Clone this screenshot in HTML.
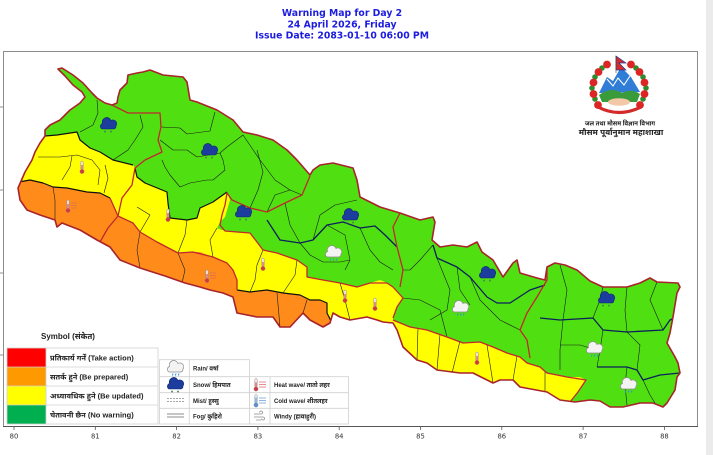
<!DOCTYPE html>
<html>
<head>
<meta charset="utf-8">
<style>
html,body{margin:0;padding:0;background:#fff;}
body{width:713px;height:455px;overflow:hidden;}
svg{display:block;}
.t{font-family:"DejaVu Sans","Liberation Sans",sans-serif;font-weight:bold;fill:#1c1ce0;font-size:9.3px;}
.tk{font-family:"DejaVu Sans","Liberation Sans",sans-serif;font-size:6.8px;fill:#333;}
.lg{font-family:"Liberation Sans","Noto Sans Devanagari","Lohit Devanagari","FreeSans","Noto Sans CJK SC",sans-serif;font-weight:bold;fill:#222;}
</style>
</head>
<body>
<svg width="713" height="455" viewBox="0 0 713 455" xmlns="http://www.w3.org/2000/svg">
<defs>
  <clipPath id="np">
    <polygon points="58,69 62,68 73,75 83,83 92,93 97,98 105,103 112,105 117,103 118,97 120,90 127,83 128,75 137,73 143,72 150,70 163,75 183,77 187,82 190,100 197,102 217,110 233,120 243,132 257,135 273,140 287,150 297,160 310,175 313,170 320,165 333,163 353,168 357,180 360,197 380,207 400,213 420,220 433,217 435,222 432,240 440,247 453,245 467,247 477,242 482,252 493,260 503,277 513,263 517,260 520,273 537,278 545,280 547,267 555,263 565,265 577,270 590,281 603,287 627,287 640,283 650,278 657,282 678,283 680,287 677,293 673,317 670,333 667,343 675,357 678,363 680,373 677,377 675,390 667,403 663,407 653,403 640,403 623,407 610,407 600,401 590,400 575,402 560,400 547,392 520,387 513,380 500,380 493,383 483,378 473,373 460,373 437,370 427,363 417,360 403,347 397,330 393,323 383,322 377,320 367,317 350,320 340,317 333,313 330,323 323,327 310,320 303,313 290,327 280,327 273,317 257,317 237,313 233,297 223,293 210,290 200,287 185,283 165,276 140,268 120,260 110,247 97,240 80,230 62,223 57,227 55,220 40,215 27,210 20,200 18,188 25,172 32,160 35,152 40,143 45,136 45,130 50,125 60,120 70,110 80,103 85,97 82,92 73,85 65,76"/>
  </clipPath>
  <g id="snow">
    <path d="M3,11 A3,3 0 0 1 3.5,5.5 A4.5,4.5 0 0 1 12,2.5 A3.8,3.8 0 0 1 17,8 A3,3 0 0 1 15,11 Z" fill="#1d3d9e" stroke="#0c2470" stroke-width="0.6"/>
    <path d="M6,12.5 v2.2 M5,13.6 h2 M12,12.5 v2.2 M11,13.6 h2" stroke="#4d7a60" stroke-width="0.8"/>
  </g>
  <g id="rain">
    <path d="M3,11 A3,3 0 0 1 3.5,5.5 A4.5,4.5 0 0 1 12,2.5 A3.8,3.8 0 0 1 17,8 A3,3 0 0 1 15,11 Z" fill="#f3f3f3" stroke="#8a8a8a" stroke-width="0.7"/>
    <path d="M7,12.5 l-0.6,2 M10,12.5 l-0.6,2 M13,12.5 l-0.6,2" stroke="#2f8fe0" stroke-width="1"/>
  </g>
  <g id="therm">
    <rect x="1.3" y="0" width="2.4" height="9" rx="1.2" fill="#f4e4e4" stroke="#9a8a8a" stroke-width="0.5"/>
    <rect x="2" y="4" width="1" height="6" fill="#d33a40"/>
    <circle cx="2.5" cy="10.5" r="2.1" fill="#d33a40" stroke="#9a7a7a" stroke-width="0.4"/>
  </g>
  <g id="thermc">
    <rect x="1.3" y="0" width="2.4" height="9" rx="1.2" fill="#e4ecf6" stroke="#8a92a0" stroke-width="0.5"/>
    <rect x="2" y="3" width="1" height="7" fill="#5a8fd0"/>
    <circle cx="2.5" cy="10.5" r="2.1" fill="#5a8fd0" stroke="#7a8aa0" stroke-width="0.4"/>
  </g>
</defs>

<!-- right gray strip -->
<rect x="706" y="0" width="7" height="455" fill="#ebebeb"/>

<!-- title -->
<text class="t" x="342" y="16.2" text-anchor="middle">Warning Map for Day 2</text>
<text class="t" x="342" y="27.4" text-anchor="middle">24 April 2026, Friday</text>
<text class="t" x="342" y="38.6" text-anchor="middle">Issue Date: 2083-01-10 06:00 PM</text>

<!-- axes frame -->
<rect x="3.5" y="51.5" width="694" height="375" fill="none" stroke="#8c8c8c" stroke-width="1"/>
<line x1="3" y1="426.5" x2="698" y2="426.5" stroke="#555" stroke-width="1"/>
<g stroke="#777" stroke-width="0.8">
  <line x1="0" y1="107" x2="3" y2="107"/>
  <line x1="0" y1="190" x2="3" y2="190"/>
  <line x1="0" y1="273" x2="3" y2="273"/>
  <line x1="0" y1="355" x2="3" y2="355"/>
</g>
<g stroke="#555" stroke-width="0.8">
  <line x1="14" y1="427" x2="14" y2="430"/>
  <line x1="95.3" y1="427" x2="95.3" y2="430"/>
  <line x1="176.6" y1="427" x2="176.6" y2="430"/>
  <line x1="257.9" y1="427" x2="257.9" y2="430"/>
  <line x1="339.2" y1="427" x2="339.2" y2="430"/>
  <line x1="420.5" y1="427" x2="420.5" y2="430"/>
  <line x1="501.8" y1="427" x2="501.8" y2="430"/>
  <line x1="583.1" y1="427" x2="583.1" y2="430"/>
  <line x1="664.4" y1="427" x2="664.4" y2="430"/>
</g>
<g class="tk" text-anchor="middle">
  <text x="14" y="438.5">80</text>
  <text x="95.3" y="438.5">81</text>
  <text x="176.6" y="438.5">82</text>
  <text x="257.9" y="438.5">83</text>
  <text x="339.2" y="438.5">84</text>
  <text x="420.5" y="438.5">85</text>
  <text x="501.8" y="438.5">86</text>
  <text x="583.1" y="438.5">87</text>
  <text x="664.4" y="438.5">88</text>
</g>

<!-- MAP -->
<g clip-path="url(#np)">
  <rect x="0" y="50" width="700" height="380" fill="#50e012"/>
  <polygon fill="#ffff00" points="10,188 18,188 25,172 32,160 35,152 40,143 45,136 57,135 77,132 80,140 90,148 100,152 113,160 133,165 135,168 137,177 145,183 167,192 168,203 170,218 187,220 197,218 200,208 213,202 227,192 230,200 225,217 220,222 217,228 222,230 237,232 250,233 257,242 263,250 277,253 297,260 307,267 307,277 323,280 340,283 357,287 370,283 380,280 387,283 393,287 403,298 397,307 393,317 393,320 410,327 427,330 447,337 463,343 480,342 493,347 507,353 520,357 527,363 540,367 547,373 567,377 580,377 586,380 578,392 570,402 570,420 10,420"/>
  <polygon fill="#ff8c1a" points="10,182 19,182 30,180 43,183 53,187 67,188 87,192 100,193 110,198 118,216 133,223 140,232 157,242 178,253 193,252 200,252 213,257 227,263 233,270 237,280 237,290 250,292 267,290 283,293 300,295 310,300 320,300 327,303 327,313 331,320 334,330 334,340 10,340"/>

  <!-- thin district lines -->
  <g fill="none" stroke="#1a1a1a" stroke-width="0.6" stroke-linejoin="round">
    <polyline points="97,100 98,113 93,125 80,132"/>
    <polyline points="140,115 143,127 135,140 128,150 113,160"/>
    <polyline points="161,127 180,128 187,134 210,131 215,112"/>
    <polyline points="160,140 173,150 187,150 197,157 220,153 227,147 243,135"/>
    <polyline points="162,160 165,167 170,175 180,187 190,183 207,180 213,180 225,170 223,160 220,153"/>
    <polyline points="38,157 60,157 77,155 92,160 100,170 98,185"/>
    <polyline points="72,156 70,167 62,180"/>
    <polyline points="105,165 108,178 104,193"/>
    <polyline points="53,187 55,200 55,220"/>
    <polyline points="140,232 150,215 137,207"/>
    <polyline points="178,253 185,235 187,220"/>
    <polyline points="213,257 210,240 217,228"/>
    <polyline points="263,250 257,265 255,280 250,292"/>
    <polyline points="297,260 295,275 283,293"/>
    <polyline points="140,232 137,250 140,268"/>
    <polyline points="178,253 185,270 182,283"/>
    <polyline points="277,293 280,327"/>
    <polyline points="307,300 303,313"/>
    <polyline points="340,283 345,300 350,320"/>
    <polyline points="418,328 417,360"/>
    <polyline points="440,334 437,370"/>
    <polyline points="460,341 452,373"/>
    <polyline points="487,345 493,383"/>
    <polyline points="517,356 513,380"/>
    <polyline points="545,372 545,391"/>
    <polyline points="267,212 275,195 290,190 302,195"/>
    <polyline points="285,203 290,225 300,243"/>
    <polyline points="313,240 320,215 335,205 357,200"/>
    <polyline points="327,225 345,235 350,260 345,270"/>
    <polyline points="360,228 370,250 380,262 393,270"/>
    <polyline points="300,243 310,255 323,262 340,262 350,260"/>
    <polyline points="250,208 258,190 263,172 257,150"/>
    <polyline points="243,135 260,160 275,180 290,190"/>
    <polyline points="433,245 420,260 410,270 403,270"/>
    <polyline points="437,258 450,290 447,310 430,320"/>
    <polyline points="470,277 480,300 500,320 520,330"/>
    <polyline points="403,298 420,300 440,310 447,337"/>
    <polyline points="457,267 460,290 470,305"/>
    <polyline points="560,265 567,290 563,320"/>
    <polyline points="603,287 600,300 593,318"/>
    <polyline points="627,287 625,310 627,332"/>
    <polyline points="657,282 650,300 663,330"/>
    <polyline points="563,320 560,350 560,370"/>
    <polyline points="603,330 600,350 597,367"/>
    <polyline points="627,332 640,345 637,370"/>
    <polyline points="627,367 625,385 627,405"/>
    <polyline points="560,345 580,345 597,350"/>
    <polyline points="643,380 650,395 655,403"/>
  </g>

  <!-- thick black boundaries -->
  <g fill="none" stroke="#111" stroke-width="1.2" stroke-linejoin="round">
    <polyline points="40,137 45,136 57,135 77,132 80,140 90,148 100,152 113,160 133,165"/>
    <polyline points="135,168 137,177 145,183 167,192 168,203 170,218 187,220 197,218 200,208 213,202 227,192"/>
    <polyline points="15,182 19,182 30,180 43,183 53,187 67,188 87,192 100,193 110,198"/>
    <polyline points="237,290 250,292 267,290 283,293 300,295 310,300 320,300 327,303 327,313 331,321"/>
  </g>

  <!-- navy lines -->
  <g fill="none" stroke="#0b1f5c" stroke-width="1.3" stroke-linejoin="round">
    <polyline points="267,220 280,240 300,243 313,240 327,225 343,222 360,228 375,226 385,235 397,247"/>
    <polyline points="433,245 437,258 457,267 470,277 487,297 497,303 510,303 530,290 545,285"/>
    <polyline points="540,318 560,320 593,318 603,330 627,332 663,330 670,320 676,317"/>
    <polyline points="597,367 627,367 637,370 643,380 660,375 680,373"/>
  </g>

  <!-- red province lines -->
  <g fill="none" stroke="#c1272d" stroke-width="1.3" stroke-linejoin="round">
    <polyline points="112,105 128,113 160,113 161,127 158,140 162,152 145,160 135,168 132,185 122,198 118,216 108,228 100,242"/>
    <polyline points="310,176 302,195 285,203 267,212 250,208 232,200 227,193 225,205 222,215 220,225 225,231 250,233 257,242 263,250 277,253 297,260 307,267 307,277 323,280 340,283 357,287 370,283 387,283 393,287 403,298 397,307 393,318"/>
    <polyline points="393,320 410,327 427,330 447,337 463,343 480,342 493,347 507,353 520,357 527,363 540,367 547,373 567,377 586,380 578,392 570,402"/>
    <polyline points="400,213 393,227 397,247 403,270 400,287"/>
    <polyline points="547,265 547,280 537,297 527,313 520,330 527,340 530,358"/>
    <polyline points="110,198 118,216 133,223 140,232 157,242 178,253 193,252 213,257 227,263 233,270 237,280 237,290"/>
  </g>
</g>

<!-- country border -->
<polygon fill="none" stroke="#a8232b" stroke-width="1.6" stroke-linejoin="round" points="58,69 62,68 73,75 83,83 92,93 97,98 105,103 112,105 117,103 118,97 120,90 127,83 128,75 137,73 143,72 150,70 163,75 183,77 187,82 190,100 197,102 217,110 233,120 243,132 257,135 273,140 287,150 297,160 310,175 313,170 320,165 333,163 353,168 357,180 360,197 380,207 400,213 420,220 433,217 435,222 432,240 440,247 453,245 467,247 477,242 482,252 493,260 503,277 513,263 517,260 520,273 537,278 545,280 547,267 555,263 565,265 577,270 590,281 603,287 627,287 640,283 650,278 657,282 678,283 680,287 677,293 673,317 670,333 667,343 675,357 678,363 680,373 677,377 675,390 667,403 663,407 653,403 640,403 623,407 610,407 600,401 590,400 575,402 560,400 547,392 520,387 513,380 500,380 493,383 483,378 473,373 460,373 437,370 427,363 417,360 403,347 397,330 393,323 383,322 377,320 367,317 350,320 340,317 333,313 330,323 323,327 310,320 303,313 290,327 280,327 273,317 257,317 237,313 233,297 223,293 210,290 200,287 185,283 165,276 140,268 120,260 110,247 97,240 80,230 62,223 57,227 55,220 40,215 27,210 20,200 18,188 25,172 32,160 35,152 40,143 45,136 45,130 50,125 60,120 70,110 80,103 85,97 82,92 73,85 65,76"/>

<!-- map icons -->
<use href="#snow" x="99" y="118"/>
<use href="#snow" x="200" y="144"/>
<use href="#snow" x="234" y="206"/>
<use href="#snow" x="341" y="209"/>
<use href="#snow" x="478" y="267"/>
<use href="#snow" x="597" y="292"/>
<use href="#rain" x="324" y="246"/>
<use href="#rain" x="451" y="301"/>
<use href="#rain" x="585" y="342"/>
<use href="#rain" x="619" y="378"/>
<use href="#therm" x="79.5" y="161"/>
<use href="#therm" x="165.5" y="209"/>
<use href="#therm" x="260.5" y="258"/>
<use href="#therm" x="342.5" y="290"/>
<use href="#therm" x="372.5" y="298"/>
<use href="#therm" x="474.5" y="352"/>
<use href="#therm" x="65.5" y="200"/>
<g stroke="#e07050" stroke-width="0.8"><line x1="71" y1="203" x2="77" y2="203"/><line x1="71" y1="205.5" x2="77" y2="205.5"/><line x1="71" y1="208" x2="77" y2="208"/></g>
<use href="#therm" x="204.5" y="270"/>
<g stroke="#e07050" stroke-width="0.8"><line x1="210" y1="273" x2="216" y2="273"/><line x1="210" y1="275.5" x2="216" y2="275.5"/><line x1="210" y1="278" x2="216" y2="278"/></g>

<!-- logo -->
<g>
  <circle cx="619" cy="88" r="21" fill="#ffffff"/>
  <polygon points="599,93 607,77 613,81 621,67 631,77 640,92" fill="#2f7dd6"/>
  <polyline points="607,79 613,86 618,78 624,85 630,76" fill="none" stroke="#fff" stroke-width="1.1"/>
  <path d="M599,95 Q611,86 622,93 Q631,88 640,94 L637,102 L602,102 Z" fill="#3a9b3a"/>
  <ellipse cx="619" cy="102" rx="11" ry="3.8" fill="#f2c8a8"/>
  <path d="M598,107 Q619,118 641,107" fill="none" stroke="#d42a2a" stroke-width="3.2"/>
  <g fill="#2e8b2e">
    <circle cx="595" cy="99" r="2.8"/><circle cx="592" cy="88" r="2.8"/><circle cx="595" cy="77" r="2.8"/><circle cx="602" cy="68" r="2.8"/>
    <circle cx="636" cy="68" r="2.8"/><circle cx="643" cy="77" r="2.8"/><circle cx="646" cy="88" r="2.8"/><circle cx="643" cy="99" r="2.8"/>
  </g>
  <g fill="#dc2626">
    <circle cx="598" cy="105" r="3.9"/><circle cx="593.5" cy="94" r="3.9"/><circle cx="593.5" cy="82.5" r="3.9"/><circle cx="598.5" cy="72" r="3.9"/><circle cx="607" cy="64.5" r="3.9"/>
    <circle cx="631" cy="64.5" r="3.9"/><circle cx="639.5" cy="72" r="3.9"/><circle cx="644.5" cy="82.5" r="3.9"/><circle cx="644.5" cy="94" r="3.9"/><circle cx="640" cy="105" r="3.9"/>
  </g>
  <polygon points="616,56 626,63 619,63 626,70 616,70" fill="#d42a2a" stroke="#1f3c9c" stroke-width="0.7"/>
  <line x1="616" y1="56" x2="616" y2="73" stroke="#444" stroke-width="0.6"/>
</g>
<text class="lg" x="620" y="125.5" text-anchor="middle" font-size="6" font-weight="normal">जल तथा मौसम विज्ञान विभाग</text>
<text class="lg" x="621" y="135" text-anchor="middle" font-size="8.2">मौसम पूर्वानुमान महाशाखा</text>

<!-- legend -->
<text class="lg" x="41" y="339" font-size="8">Symbol (संकेत)</text>
<g>
  <rect x="7" y="348" width="151" height="76" fill="#fff"/>
  <rect x="7" y="348" width="39" height="19" fill="#ff0000"/>
  <rect x="7" y="367" width="39" height="19" fill="#ff9900"/>
  <rect x="7" y="386" width="39" height="19" fill="#ffff00"/>
  <rect x="7" y="405" width="39" height="19" fill="#00b050"/>
  <g stroke="#d0d0d0" stroke-width="0.8" fill="none">
    <rect x="7" y="348" width="151" height="76"/>
    <line x1="46" y1="348" x2="46" y2="424"/>
    <line x1="7" y1="367" x2="158" y2="367"/>
    <line x1="7" y1="386" x2="158" y2="386"/>
    <line x1="7" y1="405" x2="158" y2="405"/>
  </g>
  <text class="lg" x="50" y="360.5" font-size="7.5">प्रतिकार्य गर्नें (Take action)</text>
  <text class="lg" x="50" y="379.5" font-size="7.5">सतर्क हुने (Be prepared)</text>
  <text class="lg" x="50" y="398.5" font-size="7.5">अध्यावधिक हुने (Be updated)</text>
  <text class="lg" x="50" y="417.5" font-size="7.5">चेतावनी छैन (No warning)</text>
</g>
<g>
  <rect x="159.5" y="359.7" width="90" height="64.3" fill="#fff"/>
  <g stroke="#d0d0d0" stroke-width="0.8" fill="none">
    <rect x="159.5" y="359.7" width="90" height="64.3"/>
    <line x1="189.3" y1="359.7" x2="189.3" y2="424"/>
    <line x1="159.5" y1="376.7" x2="249.5" y2="376.7"/>
    <line x1="159.5" y1="392.7" x2="249.5" y2="392.7"/>
    <line x1="159.5" y1="408.3" x2="249.5" y2="408.3"/>
  </g>
  <use href="#rain" x="166" y="361"/>
  <use href="#snow" x="166" y="378"/>
  <g stroke="#888" stroke-width="0.7" stroke-dasharray="2,1"><line x1="167" y1="398.5" x2="184" y2="398.5"/><line x1="167" y1="401.5" x2="184" y2="401.5"/></g>
  <g stroke="#666" stroke-width="0.8"><line x1="167" y1="414" x2="184" y2="414"/><line x1="167" y1="417" x2="184" y2="417"/></g>
  <text class="lg" x="193" y="370.5" font-size="6">Rain/ वर्षा</text>
  <text class="lg" x="193" y="387" font-size="6">Snow/ हिमपात</text>
  <text class="lg" x="193" y="403" font-size="6">Mist/ हुस्सु</text>
  <text class="lg" x="193" y="418.5" font-size="6">Fog/ कुहिरो</text>
</g>
<g>
  <rect x="249.5" y="376.7" width="99" height="47.3" fill="#fff"/>
  <g stroke="#d0d0d0" stroke-width="0.8" fill="none">
    <rect x="249.5" y="376.7" width="99" height="47.3"/>
    <line x1="270" y1="376.7" x2="270" y2="424"/>
    <line x1="249.5" y1="392.7" x2="348.5" y2="392.7"/>
    <line x1="249.5" y1="408.3" x2="348.5" y2="408.3"/>
  </g>
  <use href="#therm" x="253.5" y="378.5"/>
  <g stroke="#e07070" stroke-width="0.8"><line x1="259" y1="382" x2="266" y2="382"/><line x1="259" y1="384.5" x2="266" y2="384.5"/><line x1="259" y1="387" x2="266" y2="387"/></g>
  <use href="#thermc" x="253.5" y="394.5"/>
  <g stroke="#70a0e0" stroke-width="0.8"><line x1="259" y1="398" x2="266" y2="398"/><line x1="259" y1="400.5" x2="266" y2="400.5"/><line x1="259" y1="403" x2="266" y2="403"/></g>
  <g fill="none" stroke="#8a8a8a" stroke-width="0.7">
    <path d="M254,414 h7 a1.5,1.5 0 1 0 -1.5,-1.5"/>
    <path d="M254,417 h9 a1.5,1.5 0 1 1 -1.5,1.5"/>
    <path d="M256,420 h5"/>
  </g>
  <text class="lg" x="274" y="387" font-size="6">Heat wave/ तातो लहर</text>
  <text class="lg" x="274" y="403" font-size="6">Cold wave/ शीतलहर</text>
  <text class="lg" x="274" y="418.5" font-size="6">Windy (हावाहुरी)</text>
</g>
</svg>
</body>
</html>
